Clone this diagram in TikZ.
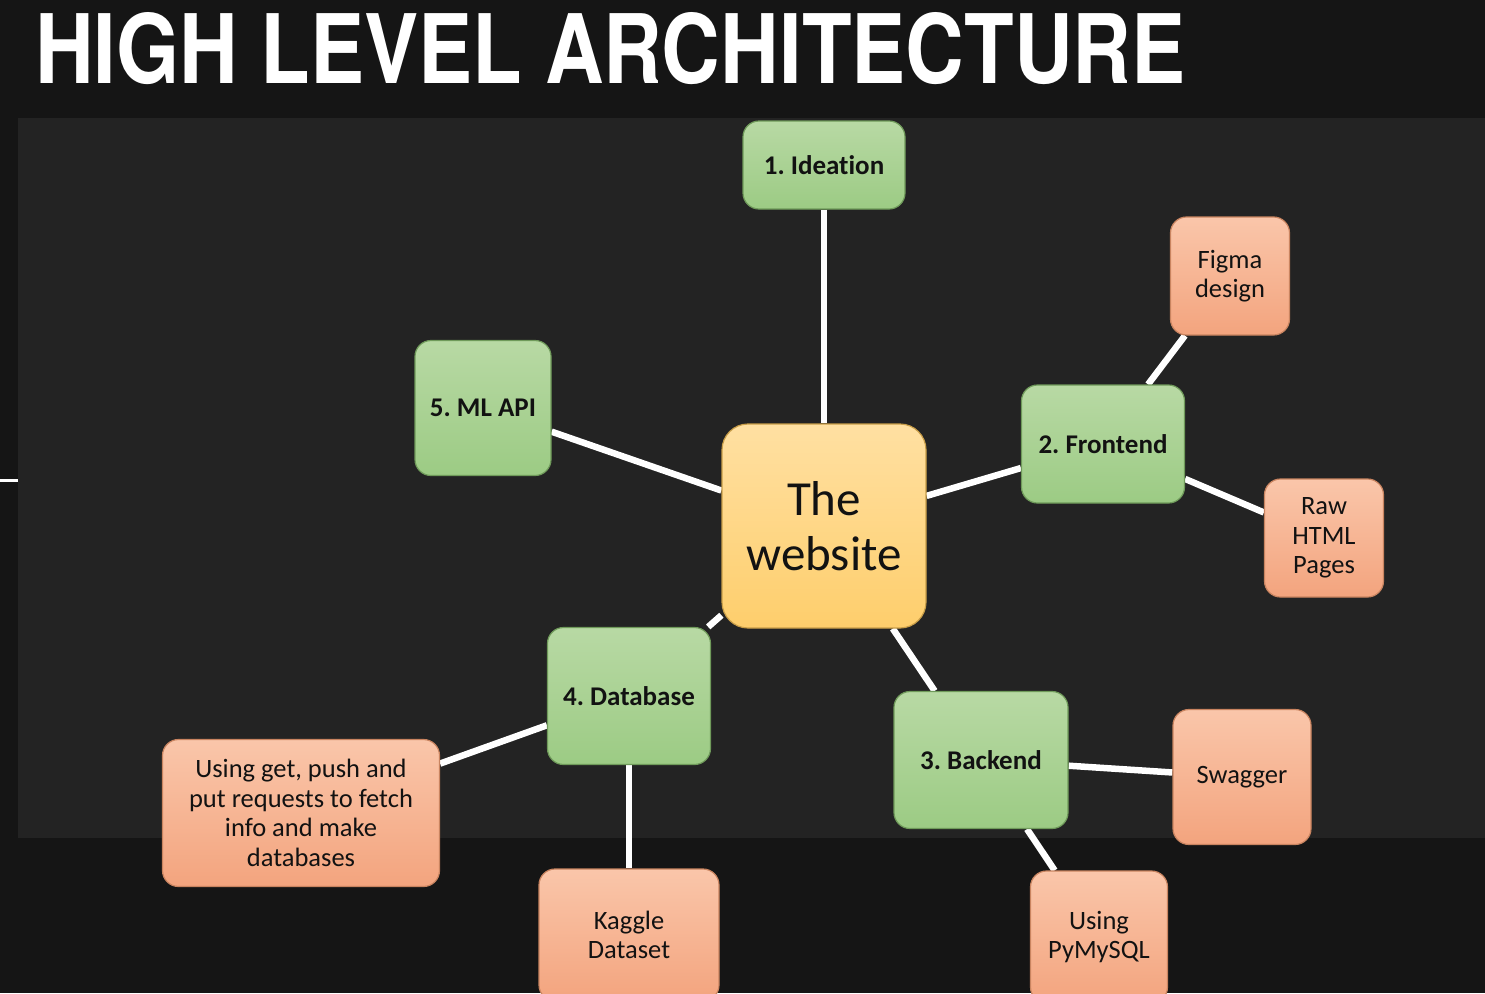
\documentclass[tikz,border=0pt]{standalone}
\usepackage{fontspec}
\usepackage{graphicx}
\setmainfont{Carlito}[Ligatures=NoCommon]
\newfontfamily\titlefont{TeX Gyre Heros}
\frenchspacing
\definecolor{bgout}{HTML}{151515}
\definecolor{bgpanel}{HTML}{232323}
\definecolor{grntop}{HTML}{B8D9A4}
\definecolor{grnbot}{HTML}{9CCB84}
\definecolor{grnborder}{HTML}{6F9A5A}
\definecolor{orgtop}{HTML}{FAC6AA}
\definecolor{orgbot}{HTML}{F3A47E}
\definecolor{orgborder}{HTML}{C98460}
\definecolor{yeltop}{HTML}{FFE0A2}
\definecolor{yelbot}{HTML}{FECE6C}
\definecolor{yelborder}{HTML}{C99E48}
\definecolor{darktext}{HTML}{121212}
\pgfdeclarelayer{bg}
\pgfdeclarelayer{lines}
\pgfsetlayers{bg,lines,main}
\begin{document}
\begin{tikzpicture}[x=1pt,y=-1pt,
  box/.style={rectangle, rounded corners=16pt, inner sep=0pt, align=center, line width=1.2pt, text=darktext},
  greenbox/.style={box, draw=grnborder, top color=grntop, bottom color=grnbot, font=\fontsize{27}{31}\selectfont\bfseries},
  orangebox/.style={box, draw=orgborder, top color=orgtop, bottom color=orgbot, font=\fontsize{26.5}{29.5}\selectfont},
  centerbox/.style={box, rounded corners=26pt, draw=yelborder, top color=yeltop, bottom color=yelbot, font=\fontsize{49}{55}\selectfont},
  link/.style={draw=white, line width=6.5pt},
  stub/.style={draw=white, line width=3pt}]
\useasboundingbox (0,0) rectangle (1485,993);
\clip (0,0) rectangle (1485,993);
\begin{pgfonlayer}{bg}
  \fill[bgout] (0,0) rectangle (1485,993);
  \fill[bgpanel] (18,118) rectangle (1485,838);
\end{pgfonlayer}

\node[anchor=north west, inner sep=0pt, text=white] (title) at (35,12)
  {\resizebox{1150pt}{71pt}{\titlefont\bfseries HIGH LEVEL ARCHITECTURE}};

\node[centerbox, minimum width=204pt, minimum height=204pt] (web) at (824,526) {The\\website};

\node[greenbox, minimum width=162pt, minimum height=88pt] (idea) at (824,165) {1. Ideation};
\node[greenbox, minimum width=163pt, minimum height=118pt] (front) at (1103,444) {2. Frontend};
\node[greenbox, minimum width=174pt, minimum height=137pt] (back) at (981,760) {3. Backend};
\node[greenbox, minimum width=163pt, minimum height=137pt] (db) at (629,696) {4. Database};
\node[greenbox, minimum width=136pt, minimum height=135pt] (ml) at (483,408) {5. ML API};

\node[orangebox, minimum width=119pt, minimum height=118pt] (figma) at (1230,276) {Figma\\design};
\node[orangebox, minimum width=119pt, minimum height=118pt] (raw) at (1324,538) {Raw\\HTML\\Pages};
\node[orangebox, minimum width=138pt, minimum height=135pt] (swag) at (1242,777) {Swagger};
\node[orangebox, minimum width=137pt, minimum height=132pt] (pym) at (1099,937) {Using\\PyMySQL};
\node[orangebox, minimum width=180pt, minimum height=132pt] (kag) at (629,935) {Kaggle\\Dataset};
\node[orangebox, minimum width=277pt, minimum height=147pt] (req) at (301,813) {Using get, push and\\put requests to fetch\\info and make\\databases};

\coordinate (stubA) at (0,480);
\coordinate (stubB) at (18,480);

\begin{pgfonlayer}{lines}
  \draw[link] (idea) -- (web);
  \draw[link] (ml) -- (web);
  \draw[link] (web) -- (front);
  \draw[link] (front) -- (figma);
  \draw[link] (front) -- (raw);
  \draw[link] (web) -- (db);
  \draw[link] (web) -- (back);
  \draw[link] (back) -- (swag);
  \draw[link] (back) -- (pym);
  \draw[link] (db) -- (req);
  \draw[link] (db) -- (kag);
  \draw[stub] (stubA) -- (stubB);
\end{pgfonlayer}
\end{tikzpicture}
\end{document}
